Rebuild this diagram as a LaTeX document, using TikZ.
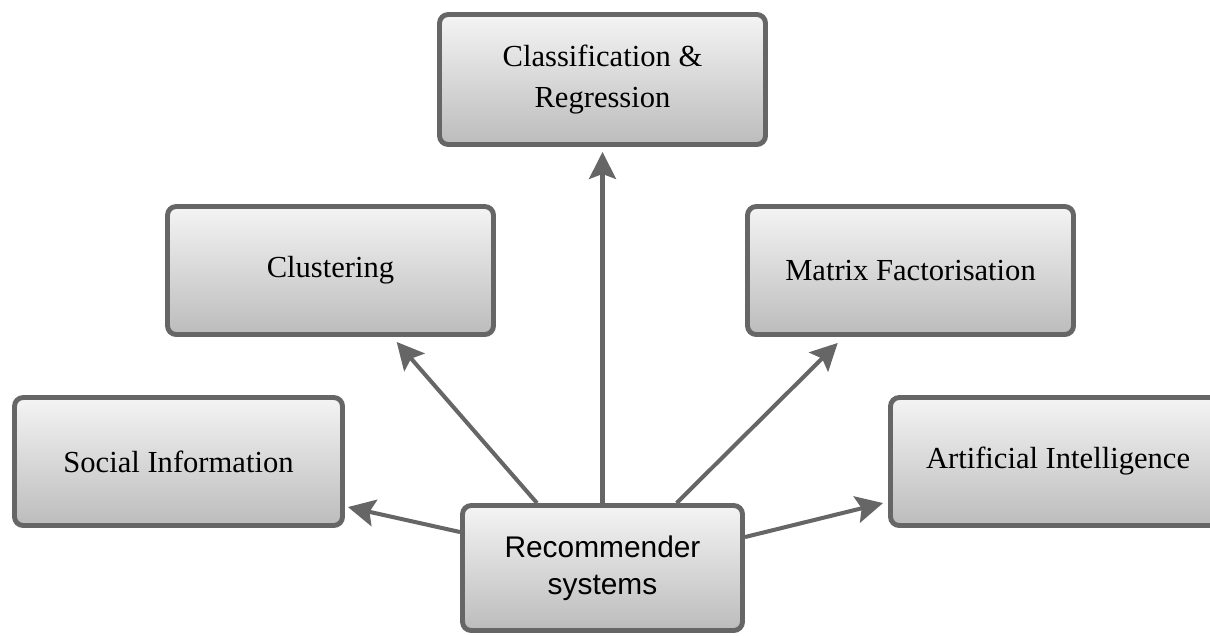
\documentclass[tikz,border=0pt]{standalone}
\usepackage{fontspec}
\setmainfont{Liberation Serif}
\setsansfont{Liberation Sans}
\usetikzlibrary{arrows.meta,calc}
\definecolor{boxtop}{HTML}{F4F4F4}
\definecolor{boxbot}{HTML}{BCBCBC}
\definecolor{edge}{HTML}{666666}

\begin{document}
\begin{tikzpicture}[
  font=\fontsize{17.4}{23}\selectfont,
  box/.style={draw=edge, line width=2.8pt, top color=boxtop, bottom color=boxbot,
              rounded corners=5pt, align=center, inner sep=3pt,
              minimum width=#1, minimum height=2.56cm},
  box/.default=6.52cm,
  arr/.style={-{Stealth[length=5.4mm, width=5.4mm, inset=1mm]}, edge, line width=2.3pt}]
\useasboundingbox (0,0) rectangle (24.2,-12.7);
\node[box, minimum height=2.6cm] (cr) at (12.05,-1.59) {Classification \&\\Regression};
\node[box] (cl) at (6.61,-5.41)  {Clustering};
\node[box] (mf) at (18.21,-5.41) {Matrix Factorisation};
\node[box=6.56cm] (si) at (3.57,-9.23)  {Social Information};
\node[box=6.7cm] (ai) at (21.16,-9.23) {Artificial Intelligence};
\node[box=5.6cm, minimum height=2.5cm, font=\sffamily\fontsize{17}{21}\selectfont] (rs) at (12.05,-11.36) {Recommender\\systems};
\draw[arr] (rs.north) -- ($(cr.south)+(0,-0.1)$);
\draw[arr] ($(rs.north west)!0.27!(rs.north east)$) -- ($(cl.south west)!0.70!(cl.south east)+(0,-0.1)$);
\draw[arr] ($(rs.north west)!0.76!(rs.north east)$) -- ($(mf.south west)!0.28!(mf.south east)+(0,-0.12)$);
\draw[arr] ($(rs.north west)+(0,-0.58)$) -- ($(si.north east)+(0.06,-2.24)$);
\draw[arr] ($(rs.north east)+(0,-0.68)$) -- ($(ai.north west)+(-0.1,-2.16)$);
\end{tikzpicture}
\end{document}
